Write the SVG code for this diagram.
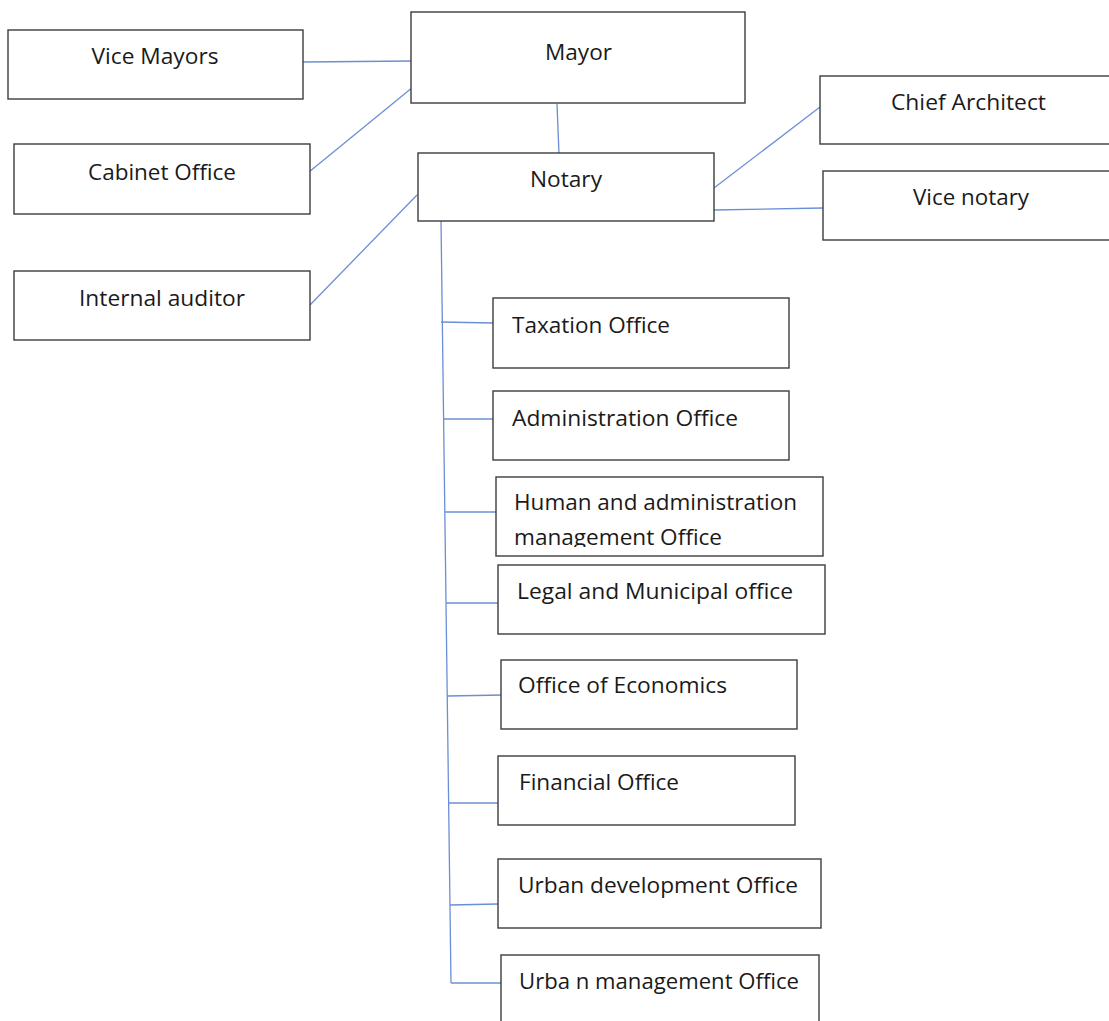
<svg xmlns="http://www.w3.org/2000/svg" width="1109" height="1021" viewBox="0 0 1109 1021">
<style>
.box{fill:#ffffff;stroke:#3c3c3c;stroke-width:1.4}
.lbl{font-family:"Open Sans","Liberation Sans",sans-serif;font-size:22px;fill:#1a1a1a}
.c{text-anchor:middle}
.con line{stroke:#6b8fd6;stroke-width:1.3;fill:none}
</style>
<defs>
<clipPath id="clipHuman"><rect x="490" y="470" width="340" height="77"/></clipPath>
</defs>
<rect x="0" y="0" width="1109" height="1021" fill="#ffffff"/>
<g id="connectors" class="con">
<line x1="303" y1="62" x2="413" y2="61"/>
<line x1="309" y1="172" x2="413" y2="87"/>
<line x1="557" y1="104" x2="559" y2="154"/>
<line x1="310" y1="305" x2="417" y2="195"/>
<line x1="714" y1="188" x2="820" y2="107"/>
<line x1="714" y1="210" x2="823" y2="208"/>
<line x1="441" y1="221" x2="451" y2="983"/>
<line x1="441" y1="322" x2="493" y2="323"/>
<line x1="443" y1="419" x2="493" y2="419"/>
<line x1="445" y1="512" x2="496" y2="512"/>
<line x1="446" y1="603" x2="498" y2="603"/>
<line x1="447" y1="696" x2="504" y2="695"/>
<line x1="448" y1="803" x2="498" y2="803"/>
<line x1="450" y1="905" x2="498" y2="904"/>
<line x1="451" y1="983" x2="507" y2="983"/>
</g>
<g id="mayor"><rect class="box" x="411" y="12" width="334" height="91"/><text class="lbl c" x="578.5" y="60" textLength="67" lengthAdjust="spacingAndGlyphs">Mayor</text></g>
<g id="vice-mayors"><rect class="box" x="8" y="30" width="295" height="69"/><text class="lbl c" x="155" y="64" textLength="127" lengthAdjust="spacingAndGlyphs">Vice Mayors</text></g>
<g id="cabinet-office"><rect class="box" x="14" y="144" width="296" height="70"/><text class="lbl c" x="162" y="180" textLength="148" lengthAdjust="spacingAndGlyphs">Cabinet Office</text></g>
<g id="internal-auditor"><rect class="box" x="14" y="271" width="296" height="69"/><text class="lbl c" x="162" y="305.5" textLength="166" lengthAdjust="spacingAndGlyphs">Internal auditor</text></g>
<g id="notary"><rect class="box" x="418" y="153" width="296" height="68"/><text class="lbl c" x="566" y="187" textLength="72" lengthAdjust="spacingAndGlyphs">Notary</text></g>
<g id="chief-architect"><rect class="box" x="820" y="76" width="300" height="68"/><text class="lbl c" x="968.5" y="110" textLength="155" lengthAdjust="spacingAndGlyphs">Chief Architect</text></g>
<g id="vice-notary"><rect class="box" x="823" y="171" width="300" height="69"/><text class="lbl c" x="971" y="205" textLength="116" lengthAdjust="spacingAndGlyphs">Vice notary</text></g>
<g id="taxation-office"><rect class="box" x="493" y="298" width="296" height="70"/><text class="lbl" x="512" y="333" textLength="158" lengthAdjust="spacingAndGlyphs">Taxation Office</text></g>
<g id="administration-office"><rect class="box" x="493" y="391" width="296" height="69"/><text class="lbl" x="512" y="426" textLength="226" lengthAdjust="spacingAndGlyphs">Administration Office</text></g>
<g id="human-admin-office"><rect class="box" x="496" y="477" width="327" height="79"/><text class="lbl" x="514" y="510" textLength="283" lengthAdjust="spacingAndGlyphs">Human and administration</text><text class="lbl" x="514" y="545" textLength="208" lengthAdjust="spacingAndGlyphs" clip-path="url(#clipHuman)">management Office</text></g>
<g id="legal-municipal-office"><rect class="box" x="498" y="565" width="327" height="69"/><text class="lbl" x="517" y="599" textLength="276" lengthAdjust="spacingAndGlyphs">Legal and Municipal office</text></g>
<g id="office-of-economics"><rect class="box" x="501" y="660" width="296" height="69"/><text class="lbl" x="518" y="693" textLength="209" lengthAdjust="spacingAndGlyphs">Office of Economics</text></g>
<g id="financial-office"><rect class="box" x="498" y="756" width="297" height="69"/><text class="lbl" x="519" y="790" textLength="160" lengthAdjust="spacingAndGlyphs">Financial Office</text></g>
<g id="urban-development-office"><rect class="box" x="498" y="859" width="323" height="69"/><text class="lbl" x="518" y="893" textLength="280" lengthAdjust="spacingAndGlyphs">Urban development Office</text></g>
<g id="urban-management-office"><rect class="box" x="501" y="955" width="318" height="80"/><text class="lbl" x="519" y="989" textLength="280" lengthAdjust="spacingAndGlyphs">Urba n management Office</text></g>
</svg>
